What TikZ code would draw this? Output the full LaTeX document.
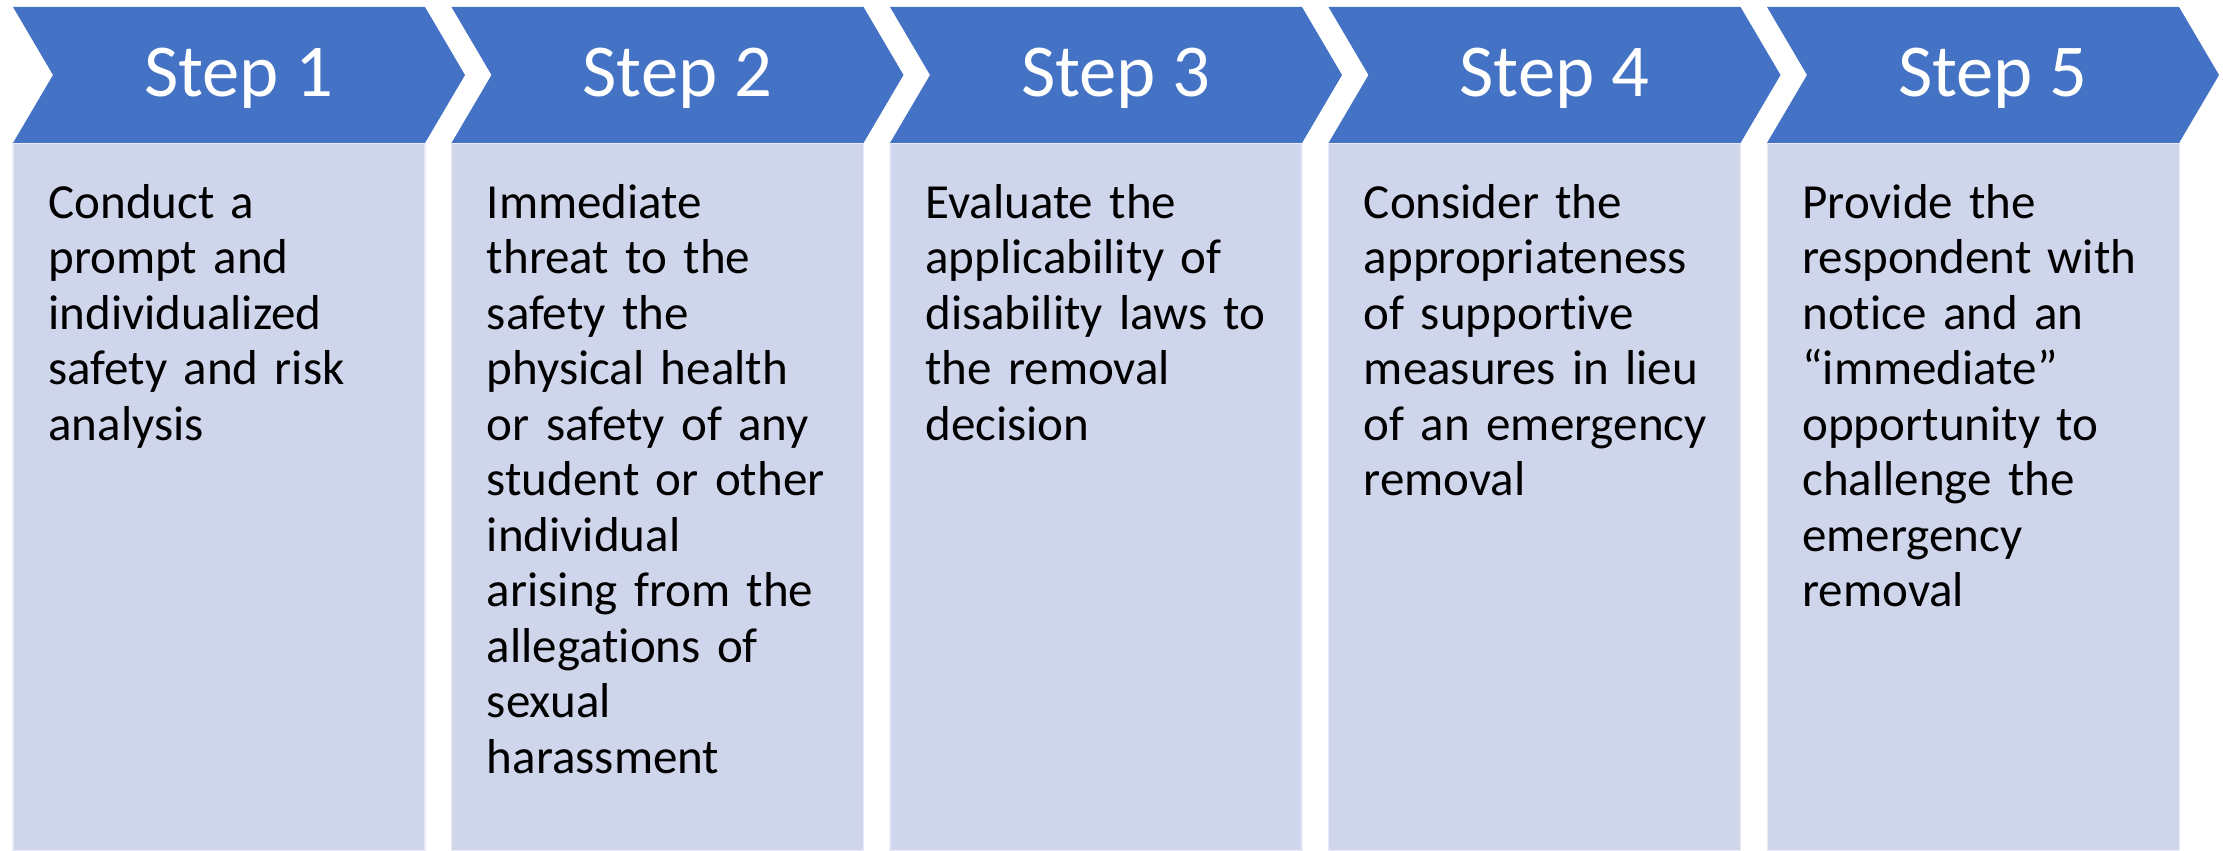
\documentclass[tikz,border=0pt]{standalone}
\usepackage{fontspec}
\setmainfont{Carlito}[Ligatures={TeX,NoCommon}]
\definecolor{chevblue}{HTML}{4472C4}
\definecolor{boxblue}{HTML}{CFD5EA}

\begin{document}
\begin{tikzpicture}[x=0.02cm, y=-0.02cm,
	chev/.style={fill=chevblue},
	panel/.style={fill=boxblue, draw=white!55!boxblue, line width=0.6pt},
	steplabel/.style={text=white, anchor=base, inner sep=0pt, font=\fontsize{42.5}{50}\selectfont},
	steptext/.style={anchor=base west, inner sep=0pt, text width=7.4cm, align=left, font=\fontsize{27.9}{31.6}\selectfont}]
	\useasboundingbox (0,0) rectangle (2223,851);
	
	% panels below the arrows
	\fill[panel] (13,143) rectangle (425,851);
	\fill[panel] (451.5,143) rectangle (863.5,851);
	\fill[panel] (890,143) rectangle (1302,851);
	\fill[panel] (1328.5,143) rectangle (1740.5,851);
	\fill[panel] (1767,143) rectangle (2179,851);
	
	% chevrons
	\fill[chev] (13,7) -- (425,7) -- (465,75) -- (425,143) -- (13,143) -- (53,75) -- cycle;
	\fill[chev] (451.5,7) -- (863.5,7) -- (903.5,75) -- (863.5,143) -- (451.5,143) -- (491.5,75) -- cycle;
	\fill[chev] (890,7) -- (1302,7) -- (1342,75) -- (1302,143) -- (890,143) -- (930,75) -- cycle;
	\fill[chev] (1328.5,7) -- (1740.5,7) -- (1780.5,75) -- (1740.5,143) -- (1328.5,143) -- (1368.5,75) -- cycle;
	\fill[chev] (1767,7) -- (2179,7) -- (2219,75) -- (2179,143) -- (1767,143) -- (1807,75) -- cycle;
	
	\node[steplabel] (st1) at (239,97) {Step 1};
	\node[steplabel] (st2) at (677.5,97) {Step 2};
	\node[steplabel] (st3) at (1116,97) {Step 3};
	\node[steplabel] (st4) at (1554.5,97) {Step 4};
	\node[steplabel] (st5) at (1993,97) {Step 5};
	
	% texts
	\node[steptext] (tx1) at (48,218) {Conduct a\\prompt and\\individualized\\safety and risk\\analysis};
	\node[steptext] (tx2) at (486.5,218) {Immediate\\threat to the\\safety the\\physical health\\or safety of any\\student or other\\individual\\arising from the\\allegations of\\sexual\\harassment};
	\node[steptext] (tx3) at (925,218) {Evaluate the\\applicability of\\disability laws to\\the removal\\decision};
	\node[steptext] (tx4) at (1363.5,218) {Consider the\\appropriateness\\of supportive\\measures in lieu\\of an emergency\\removal};
	\node[steptext] (tx5) at (1802,218) {Provide the\\respondent with\\notice and an\\“immediate”\\opportunity to\\challenge the\\emergency\\removal};
\end{tikzpicture}
\end{document}
